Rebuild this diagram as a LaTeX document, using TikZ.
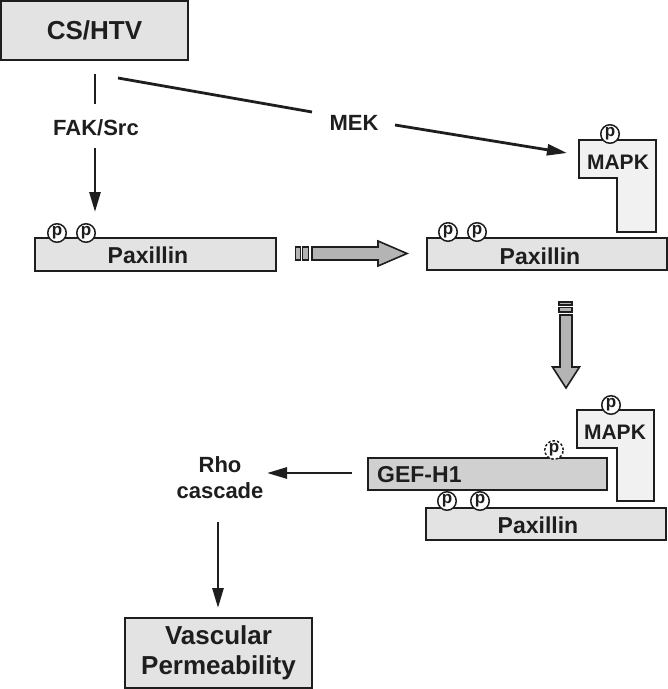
\documentclass[tikz,border=0pt]{standalone}
\usepackage{fontspec}
\setmainfont{Liberation Sans}
\usetikzlibrary{arrows.meta}
\definecolor{ink}{HTML}{1E1E1E}
\definecolor{boxgray}{HTML}{E3E3E3}
\definecolor{mapkgray}{HTML}{F1F1F1}
\definecolor{gefgray}{HTML}{D0D0D0}
\definecolor{blockgray}{HTML}{B4B4B4}
\begin{document}
\begin{tikzpicture}[x=1pt,y=-1pt,line join=miter,
  box/.style={draw=ink,line width=2pt,fill=boxgray,inner sep=0pt},
  lbl/.style={text=ink,font=\bfseries\fontsize{22}{26}\selectfont,align=center,inner sep=0pt},
  biglbl/.style={text=ink,font=\bfseries\fontsize{26}{30}\selectfont,align=center,inner sep=0pt},
  pc/.style={circle,draw=ink,line width=1.5pt,fill=white,minimum size=18.5pt,inner sep=0pt,
    font=\bfseries\fontsize{17}{17}\selectfont,text=ink},
  conn/.style={draw=ink,line width=2.8pt},
  arr/.style={conn,-{Triangle[length=20pt,width=11pt]}},
  blockarrow/.style={draw=ink,line width=1.6pt,fill=blockgray},
  kinase/.style={draw=ink,line width=2pt,fill=mapkgray}]
\useasboundingbox (0,0) rectangle (668,689);

% top box
\node[box,biglbl,minimum width=187pt,minimum height=59pt] (cs) at (94.5,30.5) {CS/HTV};

% labels
\node[lbl] (fak) at (96,128) {FAK/Src};
\node[lbl] (mek) at (354,123) {MEK};

% connectors from CS/HTV
\coordinate (fakA) at (95,74);
\coordinate (fakB) at (95,104);
\coordinate (fakC) at (95,148);
\coordinate (fakD) at (95,212);
\draw[conn] (fakA) -- (fakB);
\draw[arr] (fakC) -- (fakD);
\coordinate (mekA) at (118,78);
\coordinate (mekB) at (312,112);
\coordinate (mekC) at (395,125);
\coordinate (mekD) at (567,153);
\draw[conn] (mekA) -- (mekB);
\draw[arr] (mekC) -- (mekD);

% Paxillin 1
\node[box,minimum width=241pt,minimum height=33pt] (pax1) at (155.5,254.5) {};
\node[lbl,font=\bfseries\fontsize{23}{26}\selectfont] (pax1t) at (148,255) {Paxillin};
\node[pc] (p1a) at (57,233) {p};
\node[pc] (p1b) at (86,233) {p};

% block arrow right
\draw[blockarrow] (295.5,247) rectangle (300.5,260);
\draw[blockarrow] (302.5,247) rectangle (308.5,260);
\draw[blockarrow] (312,247) -- (378,247) -- (378,241) -- (407,253.5) -- (378,266) -- (378,260) -- (312,260) -- cycle;

% MAPK 1
\draw[kinase] (579,140) -- (656,140) -- (656,232) -- (617,232) -- (617,178) -- (579,178) -- cycle;
\node[lbl,font=\bfseries\fontsize{21}{24}\selectfont] (mapk1) at (618,162) {MAPK};
\node[pc] (p2m) at (610,134) {p};

% Paxillin 2
\node[box,minimum width=240pt,minimum height=32pt] (pax2) at (547,254) {};
\node[lbl,font=\bfseries\fontsize{23}{26}\selectfont] (pax2t) at (540,256) {Paxillin};
\node[pc] (p2a) at (448,232) {p};
\node[pc] (p2b) at (477,232) {p};

% block arrow down
\draw[blockarrow] (559,302) rectangle (572,305);
\draw[blockarrow] (559,307.5) rectangle (572,312);
\draw[blockarrow] (560,315) -- (560,367) -- (552.5,367) -- (566,388) -- (579.5,367) -- (572,367) -- (572,315) -- cycle;

% MAPK 2
\draw[kinase] (577,410) -- (654,410) -- (654,501) -- (617,501) -- (617,448) -- (577,448) -- cycle;
\node[lbl,font=\bfseries\fontsize{21}{24}\selectfont] (mapk2) at (615,432) {MAPK};
\node[pc] (p3m) at (611,405) {p};

% GEF-H1
\node[box,fill=gefgray,minimum width=239pt,minimum height=32pt] (gef) at (487.5,474) {};
\node[lbl,font=\bfseries\fontsize{23}{26}\selectfont,anchor=west] (geft) at (377,475) {GEF-H1};
\node[pc,dashed,dash pattern=on 2.5pt off 2pt] (pg) at (554,450) {p};

% Paxillin 3
\node[box,minimum width=240pt,minimum height=32pt] (pax3) at (546,524) {};
\node[lbl,font=\bfseries\fontsize{23}{26}\selectfont] (pax3t) at (538,525) {Paxillin};
\node[pc] (p3a) at (447,501) {p};
\node[pc] (p3b) at (480,501) {p};

% Rho cascade
\node[lbl] (rho) at (220,478) {Rho\\cascade};
\coordinate (gefA) at (352,473);
\coordinate (rhoA) at (267,473);
\draw[arr] (gefA) -- (rhoA);
\coordinate (rhoB) at (218,522);
\coordinate (vpA) at (218,608);
\draw[arr] (rhoB) -- (vpA);

% Vascular permeability
\node[box,biglbl,minimum width=187pt,minimum height=70pt] (vp) at (218.5,652.5) {Vascular\\Permeability};
\end{tikzpicture}
\end{document}
